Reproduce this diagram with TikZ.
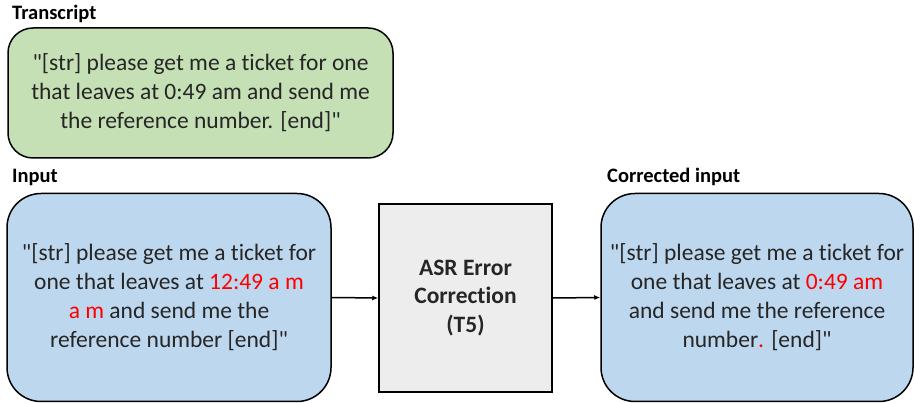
\documentclass[tikz,border=0pt]{standalone}
\usepackage{fontspec}
\setmainfont{Carlito}[Ligatures={TeXOff,NoCommon}]
\usetikzlibrary{arrows.meta}
\definecolor{boxgreen}{HTML}{C5E0B4}
\definecolor{boxblue}{HTML}{BDD7EE}
\definecolor{boxgray}{HTML}{EDEDED}
\definecolor{hired}{HTML}{FF0000}
\definecolor{txt}{HTML}{262626}
\tikzset{
  panel/.style={draw=black, line width=1.5pt, align=center, inner sep=0pt, text=txt,
    font=\fontsize{23.5}{29}\selectfont},
  heading/.style={anchor=west, inner sep=0pt, font=\bfseries\fontsize{20.5}{24}\selectfont},
  flow/.style={draw=black, line width=1.5pt, -{Latex[length=6pt,width=5pt]}}
}
\begin{document}
\begin{tikzpicture}[x=1pt,y=-1pt]
\useasboundingbox (0,0) rectangle (914,403);
\node[heading] (lt) at (12,14) {Transcript};
\node[heading] (li) at (12,177) {Input};
\node[heading] (lc) at (607,177) {Corrected input};
\node[panel, fill=boxgreen, rounded corners=25pt, minimum width=385pt, minimum height=130pt] (tr) at (200.5,93)
  {"[str] please get me a ticket for one\\that leaves at 0:49 am and send me\\the reference number. [end]"};
\node[panel, fill=boxblue, rounded corners=34pt, minimum width=324pt, minimum height=208pt] (in) at (169,297.5)
  {"[str] please get me a ticket for\\one that leaves at \textcolor{hired}{12:49 a m}\\\textcolor{hired}{a m} and send me the\\reference number [end]"};
\node[panel, fill=boxgray, minimum width=173pt, minimum height=188pt, font=\bfseries\fontsize{23.5}{28.5}\selectfont] (asr) at (465.5,298)
  {ASR Error\\Correction\\(T5)};
\node[panel, fill=boxblue, rounded corners=34pt, minimum width=312pt, minimum height=208pt] (out) at (757,297.5)
  {"[str] please get me a ticket for\\one that leaves at \textcolor{hired}{0:49 am}\\and send me the reference\\number\textcolor{hired}{.} [end]"};
\draw[flow] (in.east) -- (asr.west);
\draw[flow] (asr.east) -- (out.west);
\end{tikzpicture}
\end{document}
